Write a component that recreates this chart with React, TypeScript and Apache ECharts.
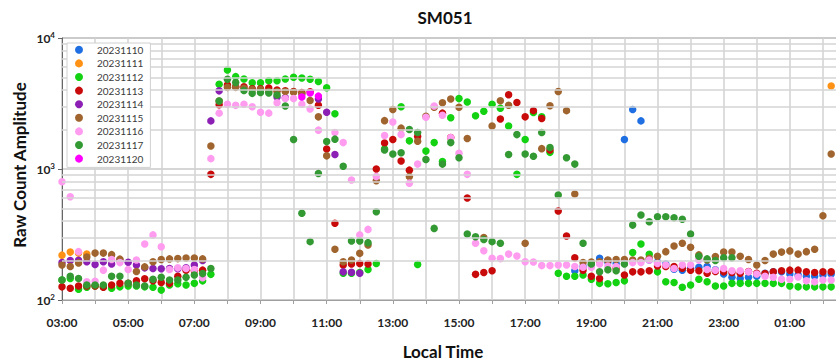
import React, { useEffect, useRef } from 'react';
import * as echarts from 'echarts';

const TITLE = 'SM051';
const X_NAME = 'Local Time';
const Y_NAME = 'Raw Count Amplitude';
const SERIES_NAMES = ['20231110', '20231111', '20231112', '20231113', '20231114', '20231115', '20231116', '20231117', '20231120'];
const COLORS = ['#1f6fe3', '#ff9214', '#12d212', '#c80a0a', '#8c1fb4', '#a0642e', '#ff9cf0', '#339933', '#ff00ff'];
const MINOR_GRID = [200, 300, 400, 500, 600, 700, 800, 900, 2000, 3000, 4000, 5000, 6000, 7000, 8000, 9000];

// [hour of day (after 24 = next day), raw count]
const D1110 = [
  [18.5, 167], [18.75, 180], [19, 185], [19.25, 208], [19.5, 195], [19.75, 190], [20, 1680], [20.25, 2850], [20.5, 2330],
  [20.75, 202], [21, 195], [21.25, 188], [21.5, 172], [21.75, 169], [22, 175], [22.25, 178], [22.5, 180], [22.75, 170],
  [23, 158], [23.25, 149], [23.5, 146], [23.75, 149], [24, 152], [24.25, 160], [24.5, 164], [24.75, 164], [25, 158],
  [25.25, 155], [25.5, 152], [25.75, 152], [26, 155], [26.25, 158],
];
const D1111 = [[3, 220], [3.25, 232], [3.5, 228], [3.75, 224], [26.25, 4300]];
const D1112 = [
  [3, 142], [3.25, 146], [3.5, 121], [3.75, 125], [4, 128], [4.25, 126], [4.5, 123], [4.75, 126], [5, 128], [5.25, 128],
  [5.5, 126], [5.75, 125], [6, 119], [6.25, 130], [6.5, 133], [6.75, 130], [7, 134], [7.25, 140], [7.5, 157],
  [7.75, 4430], [8, 5700], [8.25, 5070], [8.5, 4870], [8.75, 4550], [9, 4550], [9.25, 4720], [9.5, 4720], [9.75, 4870],
  [10, 5010], [10.25, 4950], [10.5, 4850], [10.75, 4650], [11, 4170], [11.25, 2640], [11.5, 160], [11.75, 160], [12, 162],
  [12.25, 171], [12.5, 190], [12.75, 1420], [13.25, 2990], [13.5, 1640], [13.75, 187], [14, 1370], [14.25, 1590],
  [14.5, 1140], [14.75, 2460], [15, 3450], [15.25, 3250], [15.5, 2550], [15.75, 2760], [16, 3120], [16.25, 2910],
  [16.5, 2130], [16.75, 910], [17, 1680], [17.25, 2700], [17.5, 2500], [17.75, 1340], [18, 160], [18.25, 152], [18.5, 152],
  [18.75, 155], [19, 144], [19.25, 134], [19.5, 133], [19.75, 136], [20, 140], [20.25, 230], [20.5, 268], [20.75, 223],
  [21, 164], [21.25, 138], [21.5, 136], [21.75, 125], [22, 130], [22.25, 144], [22.5, 138], [22.75, 128], [23, 128],
  [23.25, 134], [23.5, 134], [23.75, 134], [24, 134], [24.25, 134], [24.5, 134], [24.75, 134], [25, 128], [25.25, 126],
  [25.5, 126], [25.75, 126], [26, 126], [26.25, 126],
];
const D1113 = [
  [3, 126], [3.25, 123], [3.5, 128], [3.75, 128], [4, 128], [4.25, 125], [4.5, 130], [4.75, 134], [5, 134], [5.25, 140],
  [5.5, 145], [5.75, 140], [6, 136], [6.25, 134], [6.5, 152], [6.75, 169], [7, 168], [7.25, 169], [7.5, 910],
  [7.75, 3100], [8, 4380], [8.25, 4250], [8.5, 4250], [8.75, 4100], [9, 4100], [9.25, 4150], [9.5, 4010], [9.75, 3950],
  [10, 3900], [10.25, 3840], [10.5, 3880], [10.75, 3070], [11, 1420], [11.25, 385], [11.5, 185], [11.75, 188], [12, 190],
  [12.25, 188], [12.5, 1000], [12.75, 1580], [13, 1680], [13.25, 1150], [13.5, 980], [13.75, 1770], [14.5, 2670],
  [14.75, 1740], [15.25, 600], [15.5, 157], [15.75, 162], [16, 167], [16.25, 2410], [16.5, 3690], [16.75, 3220],
  [17, 2500], [17.25, 2790], [17.5, 2430], [17.75, 1395], [18, 478], [18.25, 308], [18.5, 210], [18.75, 169], [19, 152],
  [19.25, 146], [19.5, 200], [19.75, 175], [20, 155], [20.25, 164], [20.5, 164], [20.75, 167], [21, 182], [21.25, 180],
  [21.5, 180], [21.75, 175], [22, 169], [22.25, 167], [22.5, 160], [22.75, 165], [23, 164], [23.25, 162], [23.5, 160],
  [23.75, 165], [24, 160], [24.25, 159], [24.5, 164], [24.75, 167], [25, 169], [25.25, 169], [25.5, 164], [25.75, 162],
  [26, 164], [26.25, 164],
];
const D1114 = [
  [3, 193], [3.25, 200], [3.5, 201], [3.75, 196], [4, 187], [4.25, 196], [4.5, 188], [4.75, 202], [5, 194], [5.25, 185],
  [5.5, 176], [5.75, 174], [6, 173], [6.25, 174], [6.5, 173], [6.75, 176], [7, 185], [7.25, 200], [7.5, 2330],
  [7.75, 3950], [9.5, 3550], [9.75, 3500], [10.75, 3420], [11, 2710], [11.25, 1290], [11.5, 164], [11.75, 163], [12, 160],
];
const D1115 = [
  [3, 185], [3.25, 180], [3.5, 192], [3.75, 213], [4, 228], [4.25, 228], [4.5, 222], [4.75, 205], [5.25, 165], [5.5, 179],
  [5.75, 196], [6, 204], [6.25, 206], [6.5, 207], [6.75, 209], [7, 209], [7.25, 206], [7.5, 1500], [7.75, 3300],
  [8, 4200], [8.25, 4200], [8.5, 4130], [8.75, 4050], [9, 4050], [9.25, 3900], [9.5, 3900], [9.75, 3900], [10, 3860],
  [10.25, 3740], [10.5, 3330], [10.75, 2500], [11, 1260], [11.25, 244], [11.5, 196], [11.75, 202], [12, 227], [12.25, 263],
  [12.5, 813], [12.75, 2340], [13, 2850], [13.25, 2050], [13.5, 875], [13.75, 1630], [14, 2530], [14.25, 2960],
  [14.5, 3200], [14.75, 3420], [15, 2960], [15.25, 1710], [15.75, 300], [16, 2130], [16.25, 3320], [16.5, 3070],
  [17, 271], [17.5, 1430], [17.75, 3040], [18, 3900], [18.25, 2790], [18.5, 645], [18.75, 193], [19, 195], [19.25, 196],
  [19.5, 202], [19.75, 204], [20, 204], [20.25, 202], [20.5, 202], [20.75, 208], [21, 216], [21.25, 234], [21.5, 258],
  [21.75, 271], [22, 253], [22.25, 221], [22.5, 202], [22.75, 215], [23, 232], [23.25, 232], [23.5, 216], [23.75, 204],
  [24, 185], [24.25, 200], [24.5, 224], [24.75, 232], [25, 237], [25.25, 224], [25.5, 234], [25.75, 244], [26, 440],
  [26.25, 1300],
];
const D1116 = [
  [3, 800], [3.25, 614], [3.5, 234], [3.75, 138], [4, 139], [4.25, 169], [4.5, 204], [4.75, 193], [5, 171], [5.25, 202],
  [5.5, 268], [5.75, 314], [6, 255], [6.25, 171], [6.5, 176], [6.75, 174], [7, 171], [7.25, 148], [7.5, 1200],
  [7.75, 2670], [8, 3120], [8.25, 3060], [8.5, 3120], [8.75, 2990], [9, 2710], [9.25, 2670], [9.5, 3200], [9.75, 3450],
  [10, 3450], [10.25, 3120], [10.5, 2870], [10.75, 1980], [11.25, 1900], [11.5, 1590], [11.75, 823], [12, 314],
  [12.25, 346], [12.5, 875], [12.75, 1800], [13, 2280], [13.25, 1830], [13.5, 780], [13.75, 1090], [14, 2480],
  [14.25, 3030], [14.5, 2570], [14.75, 1740], [15, 1320], [15.25, 910], [15.5, 271], [15.75, 238], [16, 208], [16.25, 207],
  [16.5, 224], [16.75, 217], [17, 196], [17.25, 195], [17.5, 183], [17.75, 183], [18, 185], [18.25, 185], [18.5, 180],
  [18.75, 178], [19, 178], [19.25, 188], [19.5, 182], [19.75, 180], [20, 190], [20.25, 193], [20.5, 193], [20.75, 202],
  [21, 190], [21.25, 185], [21.5, 174], [21.75, 185], [22, 185], [22.25, 202], [22.5, 171], [22.75, 169], [23, 174],
  [23.25, 167], [23.5, 167], [23.75, 164], [24, 158], [24.25, 152], [24.5, 149], [24.75, 144], [25, 144], [25.25, 150],
  [25.5, 140], [25.75, 138], [26, 142], [26.25, 142],
];
const D1117 = [
  [3, 142], [3.25, 152], [3.5, 146], [3.75, 130], [4, 130], [4.25, 130], [4.5, 152], [4.75, 152], [5, 134], [5.25, 130],
  [5.5, 128], [5.75, 144], [6, 149], [6.25, 142], [6.5, 142], [6.75, 149], [7, 155], [7.25, 159], [7.5, 174],
  [7.75, 3300], [8, 4850], [8.25, 4580], [8.5, 3970], [8.75, 3780], [9, 3840], [9.25, 3800], [9.5, 3670], [9.75, 3030],
  [10, 1680], [10.25, 460], [10.5, 279], [10.75, 925], [11, 1620], [11.25, 1690], [11.5, 1050], [11.75, 282], [12, 282],
  [12.25, 274], [12.5, 472], [12.75, 1395], [13, 1300], [13.25, 1330], [13.5, 2000], [13.75, 1900], [14, 1180],
  [14.25, 352], [14.5, 1090], [14.75, 1590], [15, 1220], [15.25, 319], [15.5, 304], [15.75, 290], [16, 279], [16.25, 271],
  [16.5, 1290], [16.75, 1830], [17, 1300], [17.25, 1250], [17.5, 1900], [17.75, 1460], [18, 634], [18.25, 1220],
  [18.5, 1090], [18.75, 271], [19, 188], [19.25, 164], [19.5, 170], [19.75, 167], [20, 188], [20.25, 373], [20.5, 445],
  [20.75, 396], [21, 432], [21.25, 432], [21.5, 425], [21.75, 413], [22, 319], [22.25, 216], [22.5, 206], [22.75, 200],
  [23, 210], [23.25, 210],
];
const D1120 = [[10.25, 3550], [10.5, 3800], [10.75, 3600]];

const SERIES_DATA = [D1110, D1111, D1112, D1113, D1114, D1115, D1116, D1117, D1120];

const FONT = 'Lato, "Open Sans", sans-serif';

function hourLabel(v: number): string {
  if (v > 26) return '';
  if (Math.round(v - 3) % 2 !== 0) return '';
  const h = ((Math.round(v) % 24) + 24) % 24;
  return (h < 10 ? '0' : '') + h + ':00';
}

export default function App() {
  const ref = useRef<HTMLDivElement>(null);
  useEffect(() => {
    document.body.style.margin = '0';
    if (!ref.current) return;
    const chart = echarts.init(ref.current, null, { renderer: 'svg' });
    const scatter = SERIES_NAMES.map((name, i) => ({
      type: 'scatter',
      name,
      data: SERIES_DATA[i],
      symbol: 'circle',
      symbolSize: 7.5,
      itemStyle: { color: COLORS[i], opacity: 1 },
      z: 3,
      silent: true,
    }));
    const option: any = {
      animation: false,
      backgroundColor: '#ffffff',
      color: COLORS,
      grid: {
        left: 62, top: 38, width: 794, height: 262, show: true, borderColor: '#a8a8a8', borderWidth: 1,
        backgroundColor: 'transparent', containLabel: false, outerBoundsMode: 'none',
      },
      legend: {
        data: SERIES_NAMES,
        orient: 'vertical',
        left: 67,
        top: 43,
        icon: 'circle',
        itemWidth: 8,
        itemHeight: 8,
        itemGap: 2,
        padding: [1, 7, 3, 8],
        borderColor: '#d0d0d0',
        borderWidth: 1,
        backgroundColor: '#ffffff',
        selectedMode: false,
        textStyle: { fontFamily: FONT, fontSize: 10, color: '#3a3a3a', lineHeight: 11.6, padding: [0, 0, 0, 9] },
        z: 10,
      },
      xAxis: {
        type: 'value',
        min: 3,
        max: 27,
        interval: 1,
        axisLine: { show: true, lineStyle: { color: '#a0a0a0', width: 1 } },
        axisTick: { show: true, length: 4, lineStyle: { color: '#a0a0a0' } },
        axisLabel: { formatter: hourLabel, fontFamily: FONT, fontSize: 12, fontWeight: 'bold', color: '#222', margin: 16, hideOverlap: false },
        splitLine: { show: true, lineStyle: { color: '#d2d2d2', width: 1.5 } },
      },
      yAxis: {
        type: 'log',
        logBase: 10,
        min: 100,
        max: 10000,
        axisLine: { show: true, lineStyle: { color: '#666', width: 1 } },
        axisTick: { show: true, length: 4, lineStyle: { color: '#666' } },
        axisLabel: {
          margin: 7,
          formatter: (v: number) => '{b|10}{s|' + Math.round(Math.log10(v)) + '}',
          rich: {
            b: { fontFamily: FONT, fontSize: 12, fontWeight: 'bold', color: '#222', lineHeight: 14 },
            s: { fontFamily: FONT, fontSize: 8, fontWeight: 'bold', color: '#222', lineHeight: 6, verticalAlign: 'top' },
          },
        },
        splitLine: { show: true, lineStyle: { color: '#c8c8c8', width: 1.5 } },
      },
      series: [
        {
          type: 'line',
          name: 'minor-grid',
          data: [],
          silent: true,
          z: 1,
          markLine: {
            silent: true,
            symbol: ['none', 'none'],
            label: { show: false },
            lineStyle: { color: '#d4d4d4', width: 1.5, type: 'solid' },
            data: MINOR_GRID.map((v) => ({ yAxis: v })),
          },
        },
        ...scatter,
      ],
      graphic: [
        { type: 'text', x: 445, y: 17, style: { text: TITLE, font: 'bold 17px ' + FONT, fill: '#111', textAlign: 'center', textVerticalAlign: 'middle' } },
        { type: 'text', x: 443, y: 351, style: { text: X_NAME, font: 'bold 17px ' + FONT, fill: '#111', textAlign: 'center', textVerticalAlign: 'middle' } },
        { type: 'text', x: 19, y: 165, rotation: Math.PI / 2, style: { text: Y_NAME, font: 'bold 17px ' + FONT, fill: '#111', textAlign: 'center', textVerticalAlign: 'middle' } },
      ],
    };
    chart.setOption(option);
    return () => chart.dispose();
  }, []);
  return <div ref={ref} style={{ width: 836, height: 361 }} />;
}
